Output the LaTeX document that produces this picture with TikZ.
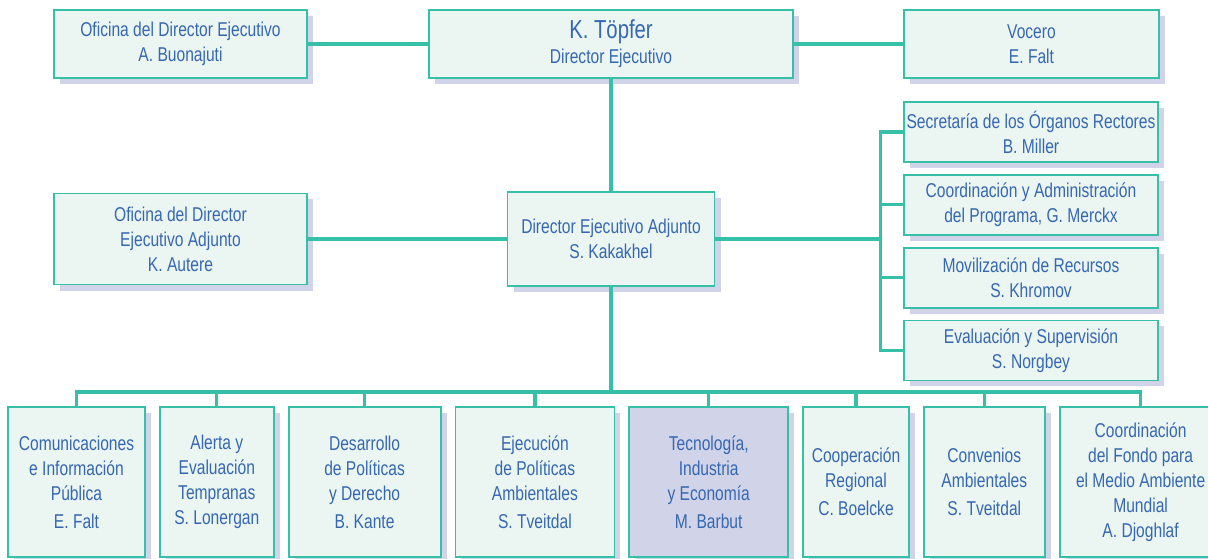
\documentclass[tikz,border=0pt]{standalone}
\usepackage{fontspec}
\setmainfont{Liberation Sans}[FakeStretch=0.78]
\usepackage{xcolor}
\usepackage{tikz}
\usetikzlibrary{positioning}
\usetikzlibrary{shadows}
\definecolor{unepteal}{HTML}{36C0A8}
\definecolor{unepfill}{HTML}{EBF5F2}
\definecolor{unepshade}{HTML}{D1D4E9}
\definecolor{uneptext}{HTML}{3668B2}
\tikzset{
  unit/.style={draw=unepteal, fill=unepfill, line width=1.8pt, text=uneptext,
    align=center, inner sep=0pt, font=\fontsize{20}{25}\selectfont,
    drop shadow={shadow xshift=6pt, shadow yshift=-6pt, fill=unepshade, opacity=1}},
  unithl/.style={unit, fill=unepshade},
  link/.style={draw=unepteal, line width=3.2pt},
}

\begin{document}
\begin{tikzpicture}[x=1pt, y=1pt, node distance=11pt and 13pt]
\useasboundingbox (0,0) rectangle (1208,558);
\node[unit, minimum width=364pt, minimum height=68pt] (topfer) at (611,514)
  {{\fontsize{26}{29}\selectfont K. Töpfer}\\Director Ejecutivo};
\node[unit, minimum width=253pt, minimum height=68pt] (ofi) at (180.5,514)
  {Oficina del Director Ejecutivo\\A. Buonajuti};
\node[unit, minimum width=255pt, minimum height=68pt] (vocero) at (1031.5,514)
  {Vocero\\E. Falt};
%%%%%%%%%%%%%%
\node[unit, minimum width=207pt, minimum height=94pt] (adj) at (611,319)
  {Director Ejecutivo Adjunto\\S. Kakakhel};
\node[unit, minimum width=253pt, minimum height=91pt] (ofiadj) at (180.5,319)
  {Oficina del Director\\Ejecutivo Adjunto\\K. Autere};
%%%%%%%%%%%%%%
\node[unit, minimum width=254pt, minimum height=60pt] (sec) at (1031,426)
  {Secretaría de los Órganos Rectores\\B. Miller};
\node[unit, minimum width=254pt, minimum height=60pt, below=of sec] (prog)
  {Coordinación y Administración\\del Programa, G. Merckx};
\node[unit, minimum width=254pt, minimum height=60pt, below=of prog] (movil)
  {Movilización de Recursos\\S. Khromov};
\node[unit, minimum width=254pt, minimum height=60pt, below=of movil] (eval)
  {Evaluación y Supervisión\\S. Norgbey};
\coordinate[right=165pt of adj] (rbus);
%%%%%%%%%%%%%%
\node[unit, minimum width=137pt, minimum height=150pt] (com) at (76.5,76)
  {Comunicaciones\\e Información\\Pública\\[3pt]E. Falt};
\node[unit, minimum width=114pt, minimum height=150pt, right=of com] (alerta)
  {Alerta y\\Evaluación\\Tempranas\\S. Lonergan};
\node[unit, minimum width=152pt, minimum height=150pt, right=of alerta] (desarr)
  {Desarrollo\\de Políticas\\y Derecho\\[3pt]B. Kante};
\node[unit, minimum width=159pt, minimum height=150pt, right=of desarr] (ejec)
  {Ejecución\\de Políticas\\Ambientales\\[3pt]S. Tveitdal};
\node[unithl, minimum width=159pt, minimum height=150pt, right=of ejec] (tec)
  {Tecnología,\\Industria\\y Economía\\[3pt]M. Barbut};
\node[unit, minimum width=106pt, minimum height=150pt, right=of tec] (coop)
  {Cooperación\\Regional\\[3pt]C. Boelcke};
\node[unit, minimum width=121pt, minimum height=150pt, right=of coop] (conv)
  {Convenios\\Ambientales\\[3pt]S. Tveitdal};
\node[unit, minimum width=162pt, minimum height=150pt, right=of conv] (gef)
  {Coordinación\\del Fondo para\\el Medio Ambiente\\Mundial\\A. Djoghlaf};
\coordinate[below=105pt of adj] (bbus);

\draw[link] (ofi) -- (topfer);
\draw[link] (topfer) -- (vocero);
\draw[link] (topfer) -- (adj);
\draw[link] (ofiadj) -- (adj);
%%%%%%%%%%%%%%%%%%%%%%%%%%
\draw[link] (adj) -- (rbus);
\draw[link] (sec.west) -- (rbus |- sec.west) -- (rbus |- eval.west) -- (eval.west);
\draw[link] (rbus |- prog.west) -- (prog);
\draw[link] (rbus |- movil.west) -- (movil);
%%%%%%%%%%%%%%%%%%%%%%%%%%
\draw[link] (adj) -- (bbus);
\draw[link] (com.north) -- (com.north |- bbus) -- (gef.north |- bbus) -- (gef.north);
\foreach \unitname in {alerta,desarr,ejec,tec,coop,conv}
  \draw[link] (\unitname.north |- bbus) -- (\unitname);
\end{tikzpicture}
\end{document}
